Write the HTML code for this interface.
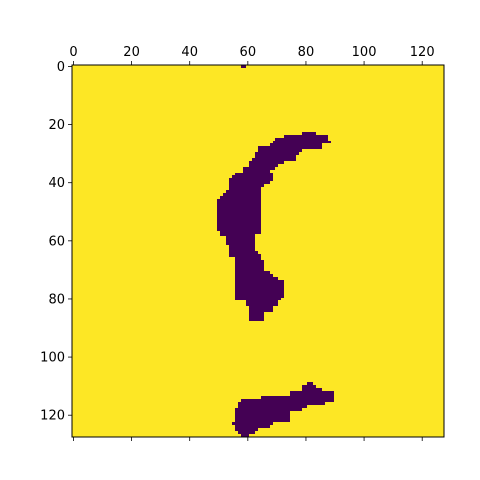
<!DOCTYPE html>
<html><head><meta charset="utf-8"><style>
html,body{margin:0;padding:0;background:#fff;}
svg{display:block;font-family:"DejaVu Sans","Liberation Sans",sans-serif;}
</style></head><body>
<svg id="chart" width="480" height="480" viewBox="0 0 480 480">
<rect x="0" y="0" width="480" height="480" fill="#fff"/>
<g id="plot"></g>
</svg>
<script>
// image data: dark runs per row [rowStart, rowEnd, colStart, colEnd)
const rowStarts = [0,23,24,25,26,27,28,29,30,31,32,33,34,35,36,37,38,39,40,41,42,43,44,45,46,57,58,59,62,64,65,66,67,71,72,73,74,80,81,83,85,109,110,111,112,114,115,116,117,118,119,123,124,125,126,127];
const rowEnds   = [1,24,25,26,27,28,29,30,31,32,33,34,35,36,37,38,39,40,41,42,43,44,45,46,57,58,59,62,64,65,66,67,71,72,73,74,80,81,83,85,88,110,111,112,114,115,116,117,118,119,123,124,125,126,127,128];
const colStarts = [58,79,73,70,69,68,64,64,63,63,62,61,61,59,59,56,55,54,54,54,54,53,52,51,50,51,51,53,54,54,54,56,56,56,56,56,56,56,60,61,61,81,79,79,75,65,58,57,57,56,56,55,56,56,57,58];
const colEnds   = [60,84,88,88,89,86,86,79,78,77,77,73,71,70,68,69,69,69,68,66,65,65,65,65,65,65,63,63,63,64,65,65,66,68,69,71,73,72,71,69,66,83,84,86,90,90,90,87,81,79,75,69,68,64,63,61];
const nRows = 128, nCols = 128;
const xTicks = [0,20,40,60,80,100,120];
const yTicks = [0,20,40,60,80,100,120];

const L=72, T=65, W=372, H=372;
const xs = c => L + c * W / nCols;
const ys = r => T + r * H / nRows;
const NS = "http://www.w3.org/2000/svg";
const g = document.getElementById('plot');
function mk(tag, attrs){ const e=document.createElementNS(NS,tag); for(const k in attrs) e.setAttribute(k, attrs[k]); return e; }

const bg = mk('rect',{x:L,y:T,width:W,height:H,fill:'#fde725'});


g.appendChild(bg);

for(let i=0;i<rowStarts.length;i++){
  const x0=Math.round(xs(colStarts[i])), x1=Math.round(xs(colEnds[i]));
  const y0=Math.round(ys(rowStarts[i])), y1=Math.round(ys(rowEnds[i]));
  const r = mk('rect',{x:x0,y:y0,width:x1-x0,height:y1-y0,fill:'#440154','shape-rendering':'crispEdges'});
  
  
  g.appendChild(r);
}

const frame = mk('rect',{x:L,y:T,width:W,height:H,fill:'none',stroke:'#000','stroke-width':1});


g.appendChild(frame);

xTicks.forEach(v=>{
  const xp = L + (v+0.5)*W/nCols;
  const t1 = mk('line',{x1:xp,y1:T,x2:xp,y2:T-4,stroke:'#000','stroke-width':0.8});
  
  
  g.appendChild(t1);
  const t2 = mk('line',{x1:xp,y1:T+H,x2:xp,y2:T+H+4,stroke:'#000','stroke-width':0.8});
  
  
  g.appendChild(t2);
  const lb = mk('text',{x:xp,y:T-9,'text-anchor':'middle','font-size':13,fill:'#000'});
  lb.textContent = v;
  
  
  g.appendChild(lb);
});
yTicks.forEach(v=>{
  const yp = T + (v+0.5)*H/nRows;
  const t = mk('line',{x1:L,y1:yp,x2:L-4,y2:yp,stroke:'#000','stroke-width':0.8});
  
  
  g.appendChild(t);
  const lb = mk('text',{x:L-7,y:yp+4.5,'text-anchor':'end','font-size':13,fill:'#000'});
  lb.textContent = v;
  
  
  g.appendChild(lb);
});
</script>
</body></html>
